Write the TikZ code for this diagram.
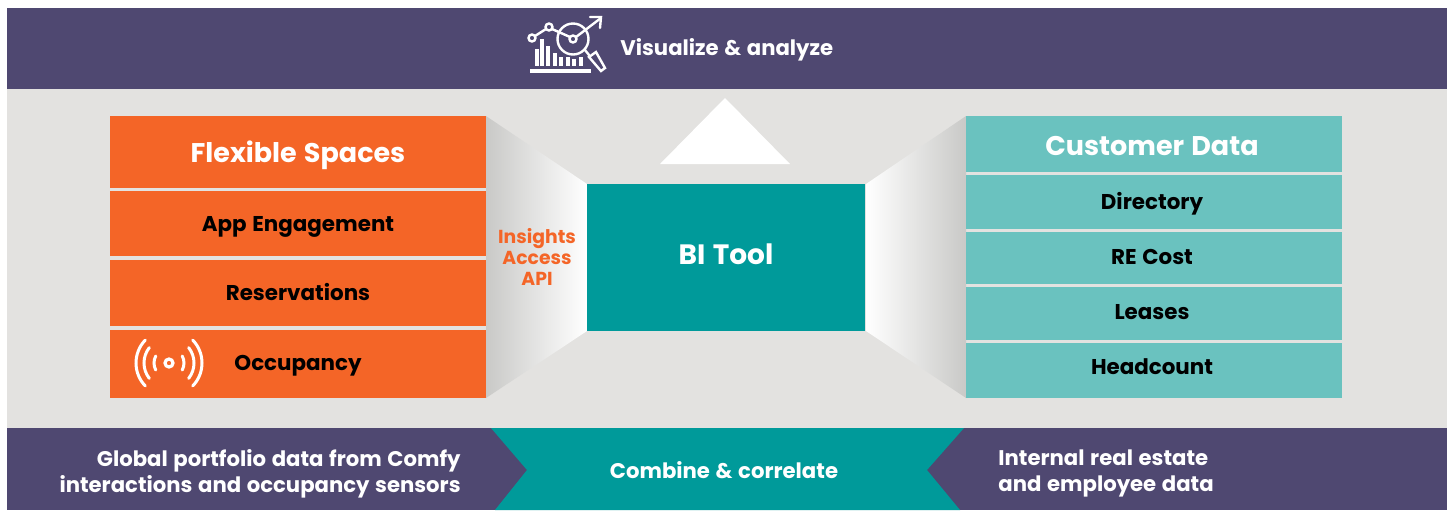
\documentclass[tikz,border=0pt]{standalone}
\usepackage{fontspec}
\setmainfont[WordSpace=1.25]{Poppins}
\definecolor{bandpurple}{HTML}{4F4871}
\definecolor{panelgray}{HTML}{E3E2E0}
\definecolor{flexorange}{HTML}{F46527}
\definecolor{toolteal}{HTML}{009A9A}
\definecolor{datateal}{HTML}{6AC2BF}
\definecolor{funnelgray}{HTML}{C9C9C7}
% box from top to bottom, label on its baseline
\def\Row (#1) at (#2, #3) to (#4, #5) base (#6, #7) #8 #9; {
    \fill[#8] (#2, #3) rectangle (#4, #5);
    \node[rowtext] (#1) at (#6, #7) {#9};
}
\tikzset{
    x=0.5pt, y=-0.5pt,
    rowtext/.style={anchor=base, inner sep=0pt, text=black, font=\bfseries\fontsize{10.7}{12}\selectfont},
    titletext/.style={anchor=base, inner sep=0pt, text=white, font=\bfseries\fontsize{13.5}{15}\selectfont},
    bandtext/.style={anchor=base, text=white, inner sep=0pt, font=\bfseries\fontsize{10.6}{13}\selectfont},
    icon/.style={draw=white, line width=1.2pt, line cap=round},
}
\begin{document}
\begin{tikzpicture}
    \useasboundingbox (0, 0) rectangle (1448, 510);
    % bands and panel
    \fill[panelgray] (7, 89) rectangle (1447, 428);
    \fill[bandpurple] (7, 8) rectangle (1447, 89);
    \fill[bandpurple] (7, 428) rectangle (1447, 510);
    \fill[toolteal] (491, 428) -- (964, 428) -- (927, 470) -- (960, 510) -- (495, 510) -- (527, 470) -- cycle;
    % funnels
    \shade[left color=funnelgray, middle color=funnelgray, right color=white]
        (486, 116) -- (587, 184) -- (587, 331) -- (486, 398) -- cycle;
    \shade[left color=white, middle color=funnelgray, right color=funnelgray]
        (866, 184) -- (966, 116) -- (966, 398) -- (866, 331) -- cycle;
    \fill[white] (725, 98) -- (790, 164) -- (660, 164) -- cycle;
    % left column
    \Row (engagement) at (110, 191) to (486, 256) base (298, 231) {flexorange} {App Engagement};
    \Row (reservations) at (110, 260) to (486, 326) base (298, 300) {flexorange} {Reservations};
    \Row (occupancy) at (110, 330) to (486, 398) base (298, 370) {flexorange} {Occupancy};
    \fill[flexorange] (110, 116) rectangle (486, 188);
    \node[titletext] (flexible) at (298, 162) {Flexible Spaces};
    % right column
    \Row (directory) at (966, 175) to (1342, 229) base (1152, 209) {datateal} {Directory};
    \Row (recost) at (966, 232) to (1342, 284) base (1152, 264) {datateal} {RE Cost};
    \Row (leases) at (966, 287) to (1342, 340) base (1152, 319) {datateal} {Leases};
    \Row (headcount) at (966, 343) to (1342, 398) base (1152, 374) {datateal} {Headcount};
    \fill[datateal] (966, 116) rectangle (1342, 172);
    \node[titletext] (customer) at (1152, 155) {Customer Data};
    % middle
    \fill[toolteal] (587, 184) rectangle (865, 331);
    \node[titletext, font=\bfseries\fontsize{14}{15}\selectfont] (bitool) at (726, 264) {BI Tool};
    \node[align=center, text=flexorange, inner sep=0pt, font=\bfseries\fontsize{9.4}{10.4}\selectfont] (insights) at (537, 257) {Insights\\Access\\API};
    % band texts
    \node[bandtext, anchor=base west] (visualize) at (620, 55) {Visualize \& analyze};
    \node[bandtext] (combine) at (724, 478) {Combine \& correlate};
    \node[bandtext, anchor=east, align=right] (globaldata) at (461, 473.5) {Global portfolio data from Comfy\\interactions and occupancy sensors};
    \node[bandtext, anchor=west, align=left] (internaldata) at (998, 473.5) {Internal real estate\\and employee data};
    % chart icon
    \foreach \x/\y in {536.5/49, 541.5/39, 547.5/46, 555/53, 561/57, 568/57, 573.5/59, 581/57} {
        \fill[white] (\x - 2, \y) rectangle (\x + 2, 66);
    }
    \fill[white] (530, 69) rectangle (591, 73);
    \draw[icon] (535, 36) -- (546, 29) (552, 29) -- (570, 37) (576, 37) -- (601, 18);
    \draw[icon] (590, 17) -- (601, 17) -- (600, 28);
    \draw[icon] (532, 38) circle (3.5) (549, 27) circle (3.5) (573, 39) circle (3.5);
    \draw[icon] (573, 39) circle (15.5);
    \draw[icon] (585, 50) -- (589, 55) (589, 57) -- (596, 52) -- (605, 68) -- (601, 71) -- cycle;
    % signal icon
    \draw[white, line width=1.6pt] (169, 363) circle (4);
    \foreach \r/\a in {15/28, 25/38, 33/44} {
        \draw[icon, line width=1.5pt] (169, 363) ++({\a}:\r) arc[start angle=\a, end angle=-\a, radius=\r];
        \draw[icon, line width=1.5pt] (169, 363) ++({180 - \a}:\r) arc[start angle=180 - \a, end angle=180 + \a, radius=\r];
    }
\end{tikzpicture}
\end{document}
